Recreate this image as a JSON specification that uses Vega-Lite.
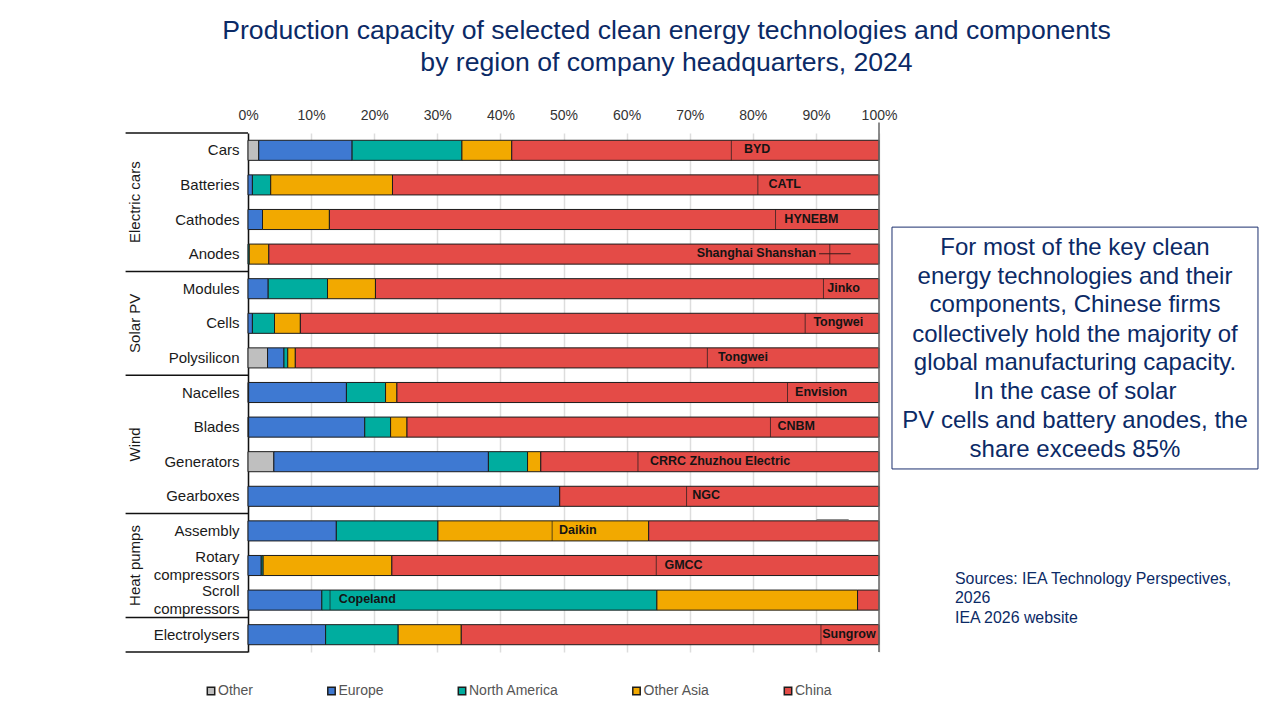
{
  "$schema": "https://vega.github.io/schema/vega-lite/v6.json",
  "autosize": {"type": "none"},
  "padding": {"left": 248, "top": 133, "right": 397, "bottom": 65},
  "width": 631,
  "height": 519,
  "background": "white",
  "title": {
    "text": ["Production capacity of selected clean energy technologies and components", "by region of company headquarters, 2024"],
    "font": "Liberation Sans",
    "fontSize": 26.6,
    "fontWeight": "normal",
    "color": "#0b2a66",
    "lineHeight": 32,
    "anchor": "middle",
    "dx": 103,
    "offset": 31
  },
  "config": {"view": {"stroke": null}, "font": "Liberation Sans"},
  "datasets": {
    "shares": [
      {"product": "Cars", "region": "Other", "rank": 1, "share": 1.7},
      {"product": "Cars", "region": "Europe", "rank": 2, "share": 14.8},
      {"product": "Cars", "region": "North America", "rank": 3, "share": 17.4},
      {"product": "Cars", "region": "Other Asia", "rank": 4, "share": 7.9},
      {"product": "Cars", "region": "China", "rank": 5, "share": 58.2},
      {"product": "Batteries", "region": "Europe", "rank": 2, "share": 0.7},
      {"product": "Batteries", "region": "North America", "rank": 3, "share": 2.9},
      {"product": "Batteries", "region": "Other Asia", "rank": 4, "share": 19.3},
      {"product": "Batteries", "region": "China", "rank": 5, "share": 77.1},
      {"product": "Cathodes", "region": "Europe", "rank": 2, "share": 2.3},
      {"product": "Cathodes", "region": "Other Asia", "rank": 4, "share": 10.6},
      {"product": "Cathodes", "region": "China", "rank": 5, "share": 87.1},
      {"product": "Anodes", "region": "North America", "rank": 3, "share": 0.2},
      {"product": "Anodes", "region": "Other Asia", "rank": 4, "share": 3.1},
      {"product": "Anodes", "region": "China", "rank": 5, "share": 96.7},
      {"product": "Modules", "region": "Europe", "rank": 2, "share": 3.2},
      {"product": "Modules", "region": "North America", "rank": 3, "share": 9.4},
      {"product": "Modules", "region": "Other Asia", "rank": 4, "share": 7.6},
      {"product": "Modules", "region": "China", "rank": 5, "share": 79.8},
      {"product": "Cells", "region": "Europe", "rank": 2, "share": 0.7},
      {"product": "Cells", "region": "North America", "rank": 3, "share": 3.5},
      {"product": "Cells", "region": "Other Asia", "rank": 4, "share": 4.1},
      {"product": "Cells", "region": "China", "rank": 5, "share": 91.7},
      {"product": "Polysilicon", "region": "Other", "rank": 1, "share": 3.1},
      {"product": "Polysilicon", "region": "Europe", "rank": 2, "share": 2.6},
      {"product": "Polysilicon", "region": "North America", "rank": 3, "share": 0.6},
      {"product": "Polysilicon", "region": "Other Asia", "rank": 4, "share": 1.2},
      {"product": "Polysilicon", "region": "China", "rank": 5, "share": 92.5},
      {"product": "Nacelles", "region": "Other", "rank": 1, "share": 0.1},
      {"product": "Nacelles", "region": "Europe", "rank": 2, "share": 15.5},
      {"product": "Nacelles", "region": "North America", "rank": 3, "share": 6.2},
      {"product": "Nacelles", "region": "Other Asia", "rank": 4, "share": 1.8},
      {"product": "Nacelles", "region": "China", "rank": 5, "share": 76.4},
      {"product": "Blades", "region": "Other", "rank": 1, "share": 0.1},
      {"product": "Blades", "region": "Europe", "rank": 2, "share": 18.4},
      {"product": "Blades", "region": "North America", "rank": 3, "share": 4.1},
      {"product": "Blades", "region": "Other Asia", "rank": 4, "share": 2.6},
      {"product": "Blades", "region": "China", "rank": 5, "share": 74.8},
      {"product": "Generators", "region": "Other", "rank": 1, "share": 4.1},
      {"product": "Generators", "region": "Europe", "rank": 2, "share": 34},
      {"product": "Generators", "region": "North America", "rank": 3, "share": 6.2},
      {"product": "Generators", "region": "Other Asia", "rank": 4, "share": 2.1},
      {"product": "Generators", "region": "China", "rank": 5, "share": 53.6},
      {"product": "Gearboxes", "region": "Europe", "rank": 2, "share": 49.4},
      {"product": "Gearboxes", "region": "China", "rank": 5, "share": 50.6},
      {"product": "Assembly", "region": "Europe", "rank": 2, "share": 14},
      {"product": "Assembly", "region": "North America", "rank": 3, "share": 16.1},
      {"product": "Assembly", "region": "Other Asia", "rank": 4, "share": 33.4},
      {"product": "Assembly", "region": "China", "rank": 5, "share": 36.5},
      {"product": "Rotary compressors", "region": "Europe", "rank": 2, "share": 2.1},
      {"product": "Rotary compressors", "region": "North America", "rank": 3, "share": 0.3},
      {"product": "Rotary compressors", "region": "Other Asia", "rank": 4, "share": 20.4},
      {"product": "Rotary compressors", "region": "China", "rank": 5, "share": 77.2},
      {"product": "Scroll compressors", "region": "Europe", "rank": 2, "share": 11.7},
      {"product": "Scroll compressors", "region": "North America", "rank": 3, "share": 53.1},
      {"product": "Scroll compressors", "region": "Other Asia", "rank": 4, "share": 31.8},
      {"product": "Scroll compressors", "region": "China", "rank": 5, "share": 3.4},
      {"product": "Electrolysers", "region": "Europe", "rank": 2, "share": 12.3},
      {"product": "Electrolysers", "region": "North America", "rank": 3, "share": 11.5},
      {"product": "Electrolysers", "region": "Other Asia", "rank": 4, "share": 10},
      {"product": "Electrolysers", "region": "China", "rank": 5, "share": 66.2}
    ],
    "companies": [
      {"product": "Cars", "company": "BYD", "cut": 76.6, "labelAt": 78.6},
      {"product": "Batteries", "company": "CATL", "cut": 80.8, "labelAt": 82.5},
      {"product": "Cathodes", "company": "HYNEBM", "cut": 83.6, "labelAt": 85},
      {"product": "Anodes", "company": "Shanghai Shanshan", "cut": 92.2, "labelAt": 71.1},
      {"product": "Modules", "company": "Jinko", "cut": 91.2, "labelAt": 91.8},
      {"product": "Cells", "company": "Tongwei", "cut": 88.3, "labelAt": 89.6},
      {"product": "Polysilicon", "company": "Tongwei", "cut": 72.8, "labelAt": 74.5},
      {"product": "Nacelles", "company": "Envision", "cut": 85.5, "labelAt": 86.7},
      {"product": "Blades", "company": "CNBM", "cut": 82.8, "labelAt": 83.9},
      {"product": "Generators", "company": "CRRC Zhuzhou Electric", "cut": 61.8, "labelAt": 63.7},
      {"product": "Gearboxes", "company": "NGC", "cut": 69.5, "labelAt": 70.4},
      {"product": "Assembly", "company": "Daikin", "cut": 48.2, "labelAt": 49.3},
      {"product": "Rotary compressors", "company": "GMCC", "cut": 64.7, "labelAt": 66},
      {"product": "Scroll compressors", "company": "Copeland", "cut": 13, "labelAt": 14.4},
      {"product": "Electrolysers", "company": "Sungrow", "cut": 90.8, "labelAt": 91}
    ],
    "groups": [
      {"group": "Electric cars", "at": -17.9, "row": 2},
      {"group": "Solar PV", "at": -17.9, "row": 5.5},
      {"group": "Wind", "at": -17.9, "row": 9},
      {"group": "Heat pumps", "at": -17.9, "row": 12.5}
    ],
    "edges": [
      {"from": -19.4, "to": 0, "row": 0},
      {"from": -19.4, "to": 0, "row": 4},
      {"from": -19.4, "to": 0, "row": 7},
      {"from": -19.4, "to": 0, "row": 11},
      {"from": -19.4, "to": 0, "row": 14},
      {"from": -19.4, "to": 0, "row": 15}
    ],
    "frame": [{"from": 102.06, "to": 160.06, "top": 2.72, "bottom": 9.71}],
    "noteLines": [
      {"line": "For most of the key clean", "at": 131.06, "row": 3.32},
      {"line": "energy technologies and their", "at": 131.06, "row": 4.155},
      {"line": "components, Chinese firms", "at": 131.06, "row": 4.985},
      {"line": "collectively hold the majority of", "at": 131.06, "row": 5.835},
      {"line": "global manufacturing capacity.", "at": 131.06, "row": 6.645},
      {"line": "In the case of solar", "at": 131.06, "row": 7.485},
      {"line": "PV cells and battery anodes, the", "at": 131.06, "row": 8.315},
      {"line": "share exceeds 85%", "at": 131.06, "row": 9.155}
    ],
    "sourceLines": [
      {"line": "Sources: IEA Technology Perspectives,", "at": 112.04, "row": 12.89},
      {"line": "2026", "at": 112.04, "row": 13.44},
      {"line": "IEA 2026 website", "at": 112.04, "row": 14.02}
    ]
  },
  "resolve": {"scale": {"y": "independent"}, "axis": {"y": "independent"}},
  "layer": [
    {
      "layer": [
        {
          "data": {"name": "shares"},
          "mark": {"type": "bar", "stroke": "#1c1c1c", "strokeWidth": 1},
          "encoding": {
            "x": {
              "field": "share",
              "type": "quantitative",
              "stack": "zero",
              "title": null,
              "scale": {"domain": [0, 100], "nice": false},
              "axis": {
                "orient": "top",
                "values": [0, 10, 20, 30, 40, 50, 60, 70, 80, 90, 100],
                "labelExpr": "datum.value + '%'",
                "labelFont": "Liberation Sans",
                "labelFontSize": 14,
                "labelColor": "#333333",
                "labelPadding": 11,
                "labelFlush": false,
                "ticks": false,
                "domain": false,
                "grid": true,
                "gridColor": "#dddddd",
                "gridWidth": 1.5,
                "zindex": 0
              }
            },
            "y": {
              "field": "product",
              "type": "nominal",
              "title": null,
              "scale": {
                "domain": ["Cars", "Batteries", "Cathodes", "Anodes", "Modules", "Cells", "Polysilicon", "Nacelles", "Blades", "Generators", "Gearboxes", "Assembly", "Rotary compressors", "Scroll compressors", "Electrolysers"],
                "paddingInner": 0.42,
                "paddingOuter": 0.21
              },
              "axis": {
                "labelExpr": "datum.label == 'Rotary compressors' ? ['Rotary\u00a0\u00a0\u00a0\u00a0\u00a0', 'compressors'] : datum.label == 'Scroll compressors' ? ['Scroll\u00a0\u00a0\u00a0\u00a0\u00a0\u00a0', 'compressors'] : datum.label",
                "labelFont": "Liberation Sans",
                "labelFontSize": 15,
                "labelColor": "#1a1a1a",
                "labelPadding": 9,
                "labelLineHeight": 18,
                "labelOffset": {"condition": {"test": "datum.value == 'Rotary compressors' || datum.value == 'Scroll compressors'", "value": -9}, "value": 0},
                "ticks": false,
                "domain": true,
                "domainColor": "#111111",
                "domainWidth": 1.5,
                "grid": false
              }
            },
            "color": {
              "field": "region",
              "type": "nominal",
              "title": null,
              "scale": {
                "domain": ["Other", "Europe", "North America", "Other Asia", "China"],
                "range": ["#bfbfbf", "#3e79d2", "#00ad9f", "#f2a900", "#e44b47"]
              },
              "legend": {
                "orient": "none",
                "legendX": -44,
                "legendY": 551,
                "direction": "horizontal",
                "columns": 5,
                "columnPadding": 70.5,
                "symbolType": "square",
                "symbolSize": 55,
                "labelFont": "Liberation Sans",
                "labelFontSize": 14,
                "labelColor": "#555555",
                "labelOffset": 0,
                "encode": {"symbols": {"update": {"stroke": {"value": "#444444"}, "strokeWidth": {"value": 1}}}}
              }
            },
            "order": {"field": "rank"}
          }
        },
        {
          "data": {"name": "companies"},
          "mark": {"type": "tick", "orient": "vertical", "color": "#1c1c1c", "thickness": 1, "size": 20},
          "encoding": {
            "x": {"field": "cut", "type": "quantitative"},
            "y": {"field": "product", "type": "nominal"}
          }
        },
        {
          "data": {"name": "companies"},
          "mark": {"type": "text", "align": "left", "baseline": "middle", "font": "Liberation Sans", "fontSize": 12.5, "fontWeight": "bold", "color": "#141414", "dy": -1},
          "encoding": {
            "x": {"field": "labelAt", "type": "quantitative"},
            "y": {"field": "product", "type": "nominal"},
            "text": {"field": "company"}
          }
        }
      ]
    },
    {
      "layer": [
        {
          "data": {"values": [{"at": 100, "start": -0.3, "end": 15}]},
          "mark": {"type": "rule", "color": "#666666", "strokeWidth": 1.5},
          "encoding": {
            "x": {"field": "at", "type": "quantitative"},
            "y": {"field": "start", "type": "quantitative", "axis": null, "scale": {"domain": [0, 15], "reverse": true, "nice": false, "zero": false}},
            "y2": {"field": "end"}
          }
        },
        {
          "data": {"name": "edges"},
          "mark": {"type": "rule", "color": "#111111", "strokeWidth": 1.5},
          "encoding": {
            "x": {"field": "from", "type": "quantitative"},
            "x2": {"field": "to"},
            "y": {"field": "row", "type": "quantitative"}
          }
        },
        {
          "data": {"values": [{"from": 90.5, "to": 95.5, "row": 3.49}]},
          "mark": {"type": "rule", "strokeWidth": 1, "color": "#3a1a1a"},
          "encoding": {
            "x": {"field": "from", "type": "quantitative"},
            "x2": {"field": "to"},
            "y": {"field": "row", "type": "quantitative"}
          }
        },
        {
          "data": {"values": [{"from": 90.1, "to": 95.2, "row": 11.171}]},
          "mark": {"type": "rule", "strokeWidth": 1, "color": "#8c8c8c"},
          "encoding": {
            "x": {"field": "from", "type": "quantitative"},
            "x2": {"field": "to"},
            "y": {"field": "row", "type": "quantitative"}
          }
        },
        {
          "data": {"name": "groups"},
          "mark": {"type": "text", "angle": 270, "align": "center", "baseline": "middle", "font": "Liberation Sans", "fontSize": 15, "color": "#1a1a1a"},
          "encoding": {
            "x": {"field": "at", "type": "quantitative"},
            "y": {"field": "row", "type": "quantitative"},
            "text": {"field": "group"}
          }
        },
        {
          "data": {"name": "frame"},
          "mark": {"type": "rect", "fill": "white", "stroke": "#1b2f6e", "strokeWidth": 1},
          "encoding": {
            "x": {"field": "from", "type": "quantitative"},
            "x2": {"field": "to"},
            "y": {"field": "top", "type": "quantitative"},
            "y2": {"field": "bottom"}
          }
        },
        {
          "data": {"name": "noteLines"},
          "mark": {"type": "text", "align": "center", "baseline": "middle", "font": "Liberation Sans", "fontSize": 24, "color": "#0b2a66"},
          "encoding": {
            "x": {"field": "at", "type": "quantitative"},
            "y": {"field": "row", "type": "quantitative"},
            "text": {"field": "line"}
          }
        },
        {
          "data": {"name": "sourceLines"},
          "mark": {"type": "text", "align": "left", "baseline": "middle", "font": "Liberation Sans", "fontSize": 15.9, "color": "#0b2a66"},
          "encoding": {
            "x": {"field": "at", "type": "quantitative"},
            "y": {"field": "row", "type": "quantitative"},
            "text": {"field": "line"}
          }
        }
      ]
    }
  ]
}
